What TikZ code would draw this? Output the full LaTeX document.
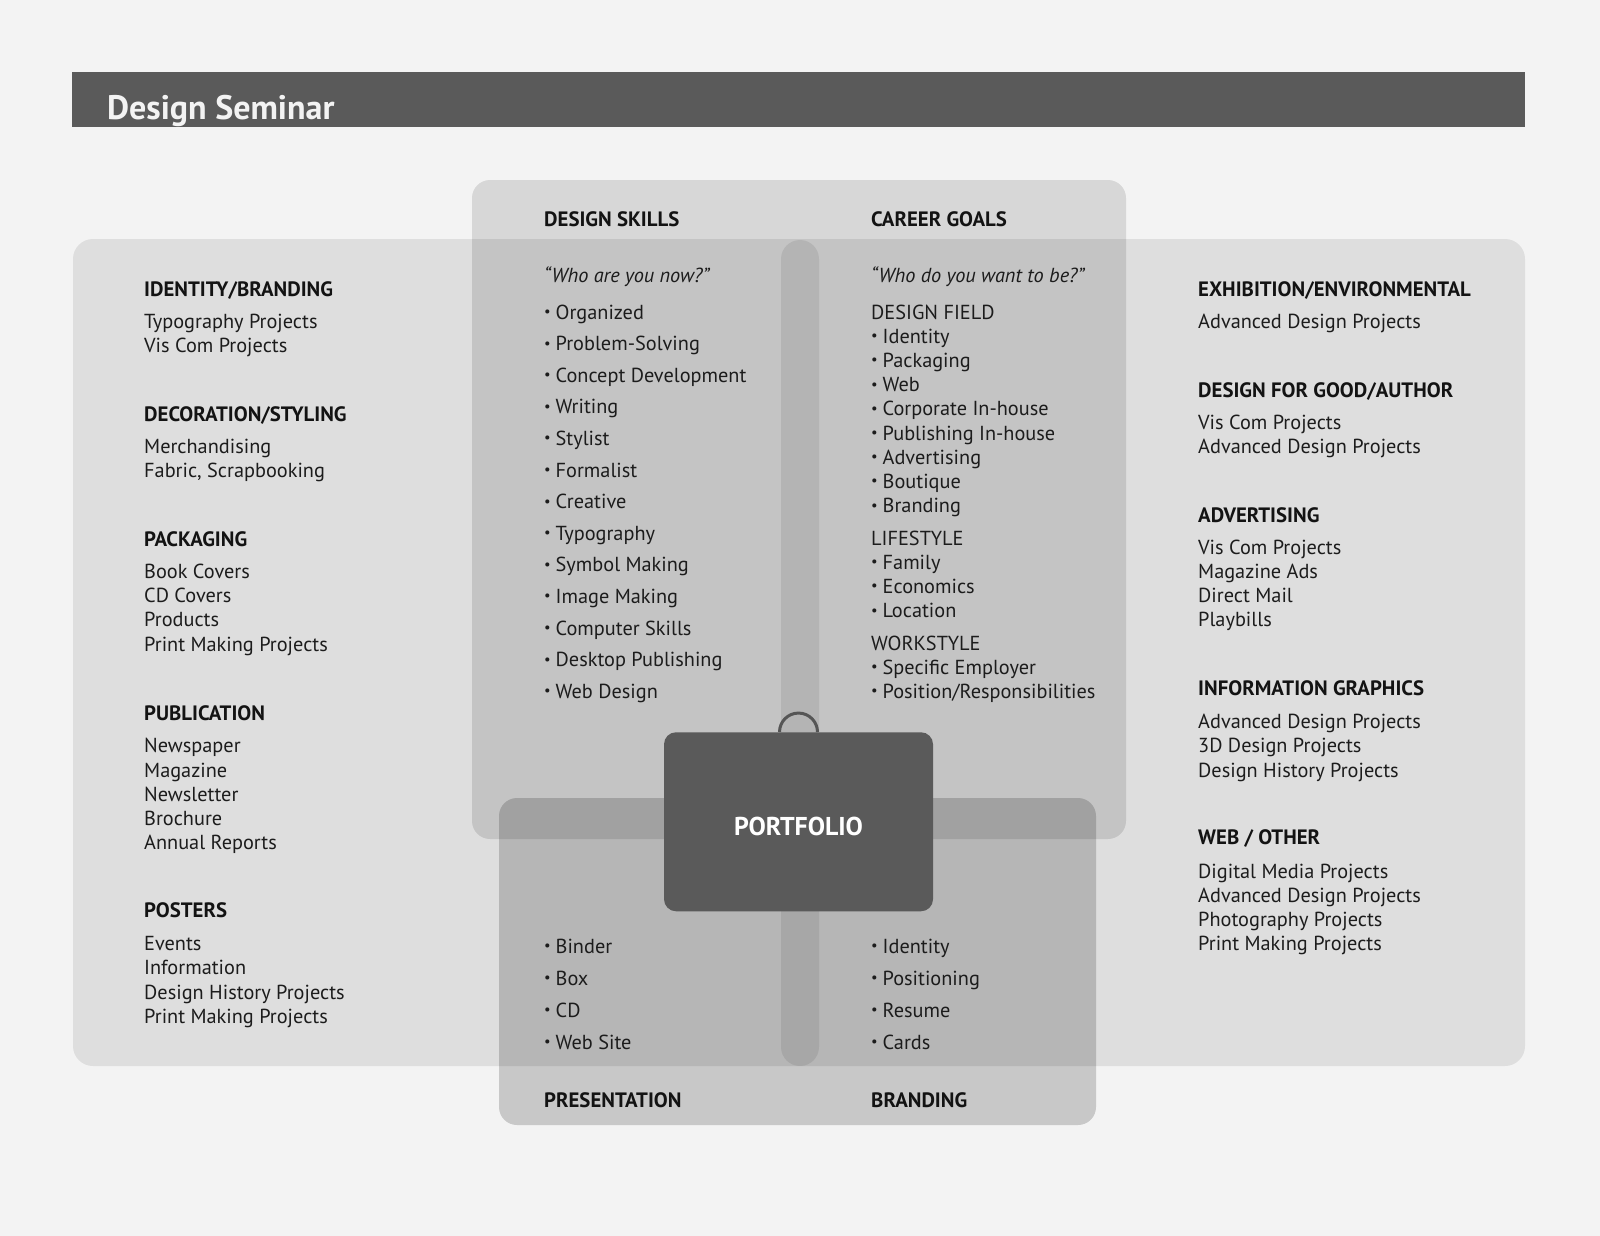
\documentclass[tikz,border=0pt]{standalone}
\usepackage{fontspec}
\setmainfont{PT Sans}
\usetikzlibrary{positioning}
\definecolor{pagebg}{HTML}{F3F3F3}
\definecolor{bardark}{HTML}{5A5A5A}
\definecolor{headtext}{HTML}{131313}
\definecolor{itemtext}{HTML}{1C1C1C}
\definecolor{handlegray}{HTML}{555555}
\newcommand{\bul}{\raisebox{0.12em}{\scalebox{0.72}{\textbullet}}\hspace{0.24em}}
\tikzset{
  head/.style={anchor=base west, inner sep=0pt, text=headtext, font=\bfseries\fontsize{20.8}{24}\selectfont},
  item/.style={anchor=base west, inner sep=0pt, text=itemtext, font=\fontsize{20.3}{24}\selectfont},
  quote/.style={item, font=\itshape\fontsize{20.3}{24}\selectfont},
  panel/.style={fill=black, rounded corners=18pt},
  portbox/.style={fill=bardark, rounded corners=12pt, minimum width=269pt, minimum height=179pt,
    text=white, font=\bfseries\fontsize{25.8}{28}\selectfont, text height=27pt, text depth=0pt},
}
\begin{document}
\begin{tikzpicture}[x=1pt,y=-1pt]
\useasboundingbox (0,0) rectangle (1600,1236);
\fill[pagebg] (0,0) rectangle (1600,1236);
% title bar
\fill[bardark] (72,72) rectangle (1525,127);
\node[anchor=base west, inner sep=0pt, text=pagebg, font=\bfseries\fontsize{34}{38}\selectfont] (ttl) at (107,120) {Design Seminar};
% panels
\fill[panel, fill opacity=0.086, rounded corners=20pt] (73,239) rectangle (1525,1066);
\fill[panel, fill opacity=0.115] (472,180) rectangle (1126,839);
\fill[panel, fill opacity=0.175] (499,798) rectangle (1096,1125);
\fill[panel, fill opacity=0.08, rounded corners=19pt] (781,240) rectangle (819,1066);
% portfolio
\node[portbox] (port) at (798.5,821.75) {PORTFOLIO};
\draw[handlegray, line width=3pt] (port.north) ++(-19,0) arc[start angle=180, end angle=360, radius=19];

% left column
\node[head] (h-id) at (144,296) {IDENTITY/BRANDING};
\foreach \t [count=\i from 0] in {Typography Projects, Vis Com Projects}
  \node[item] (id\i) at (144,328.3+24.3*\i) {\t};
\node[head] (h-deco) at (144,421) {DECORATION/STYLING};
\foreach \t [count=\i from 0] in {Merchandising, {Fabric, Scrapbooking}}
  \node[item] (deco\i) at (144,453+24.3*\i) {\t};
\node[head] (h-pack) at (144,546) {PACKAGING};
\foreach \t [count=\i from 0] in {Book Covers, CD Covers, Products, Print Making Projects}
  \node[item] (pack\i) at (144,578.3+24.3*\i) {\t};
\node[head] (h-pub) at (144,720) {PUBLICATION};
\foreach \t [count=\i from 0] in {Newspaper, Magazine, Newsletter, Brochure, Annual Reports}
  \node[item] (pub\i) at (144,752.7+24.3*\i) {\t};
\node[head] (h-post) at (144,917) {POSTERS};
\foreach \t [count=\i from 0] in {Events, Information, Design History Projects, Print Making Projects}
  \node[item] (post\i) at (144,950.7+24.2*\i) {\t};

% right column
\node[head] (h-exh) at (1198,296) {EXHIBITION/ENVIRONMENTAL};
\node[item] (exh0) at (1198,328.3) {Advanced Design Projects};
\node[head] (h-good) at (1198,397) {DESIGN FOR GOOD/AUTHOR};
\foreach \t [count=\i from 0] in {Vis Com Projects, Advanced Design Projects}
  \node[item] (good\i) at (1198,429+24.3*\i) {\t};
\node[head] (h-adv) at (1198,522) {ADVERTISING};
\foreach \t [count=\i from 0] in {Vis Com Projects, Magazine Ads, Direct Mail, Playbills}
  \node[item] (adv\i) at (1198,554.3+24.2*\i) {\t};
\node[head] (h-info) at (1198,695) {INFORMATION GRAPHICS};
\foreach \t [count=\i from 0] in {Advanced Design Projects, 3D Design Projects, Design History Projects}
  \node[item] (info\i) at (1198,728.3+24.5*\i) {\t};
\node[head] (h-web) at (1198,844) {WEB / OTHER};
\foreach \t [count=\i from 0] in {Digital Media Projects, Advanced Design Projects, Photography Projects, Print Making Projects}
  \node[item] (web\i) at (1198,878.3+24.2*\i) {\t};

% design skills
\node[head] (h-skill) at (544,226) {DESIGN SKILLS};
\node[quote] (q-skill) at (544,282) {“Who are you now?”};
\foreach \t [count=\i from 0] in {Organized, Problem-Solving, Concept Development, Writing, Stylist, Formalist, Creative, Typography, Symbol Making, Image Making, Computer Skills, Desktop Publishing, Web Design}
  \node[item] (skill\i) at (544,319+31.6*\i) {\bul\t};

% career goals
\node[head] (h-goal) at (871,226) {CAREER GOALS};
\node[quote] (q-goal) at (871,282) {“Who do you want to be?”};
\node[item] (field) at (871,319) {DESIGN FIELD};
\foreach \t [count=\i from 0] in {Identity, Packaging, Web, Corporate In-house, Publishing In-house, Advertising, Boutique, Branding}
  \node[item] (field\i) at (871,343.2+24.2*\i) {\bul\t};
\node[item] (life) at (871,545) {LIFESTYLE};
\foreach \t [count=\i from 0] in {Family, Economics, Location}
  \node[item] (life\i) at (871,569.2+24.2*\i) {\bul\t};
\node[item] (work) at (871,650) {WORKSTYLE};
\foreach \t [count=\i from 0] in {Specific Employer, Position/Responsibilities}
  \node[item] (work\i) at (871,674+24.2*\i) {\bul\t};

% presentation and branding
\foreach \t [count=\i from 0] in {Binder, Box, CD, Web Site}
  \node[item] (pres\i) at (544,953+32*\i) {\bul\t};
\foreach \t [count=\i from 0] in {Identity, Positioning, Resume, Cards}
  \node[item] (brand\i) at (871,953+32*\i) {\bul\t};
\node[head] (h-pres) at (544,1107) {PRESENTATION};
\node[head] (h-brand) at (871,1107) {BRANDING};
\end{tikzpicture}
\end{document}
